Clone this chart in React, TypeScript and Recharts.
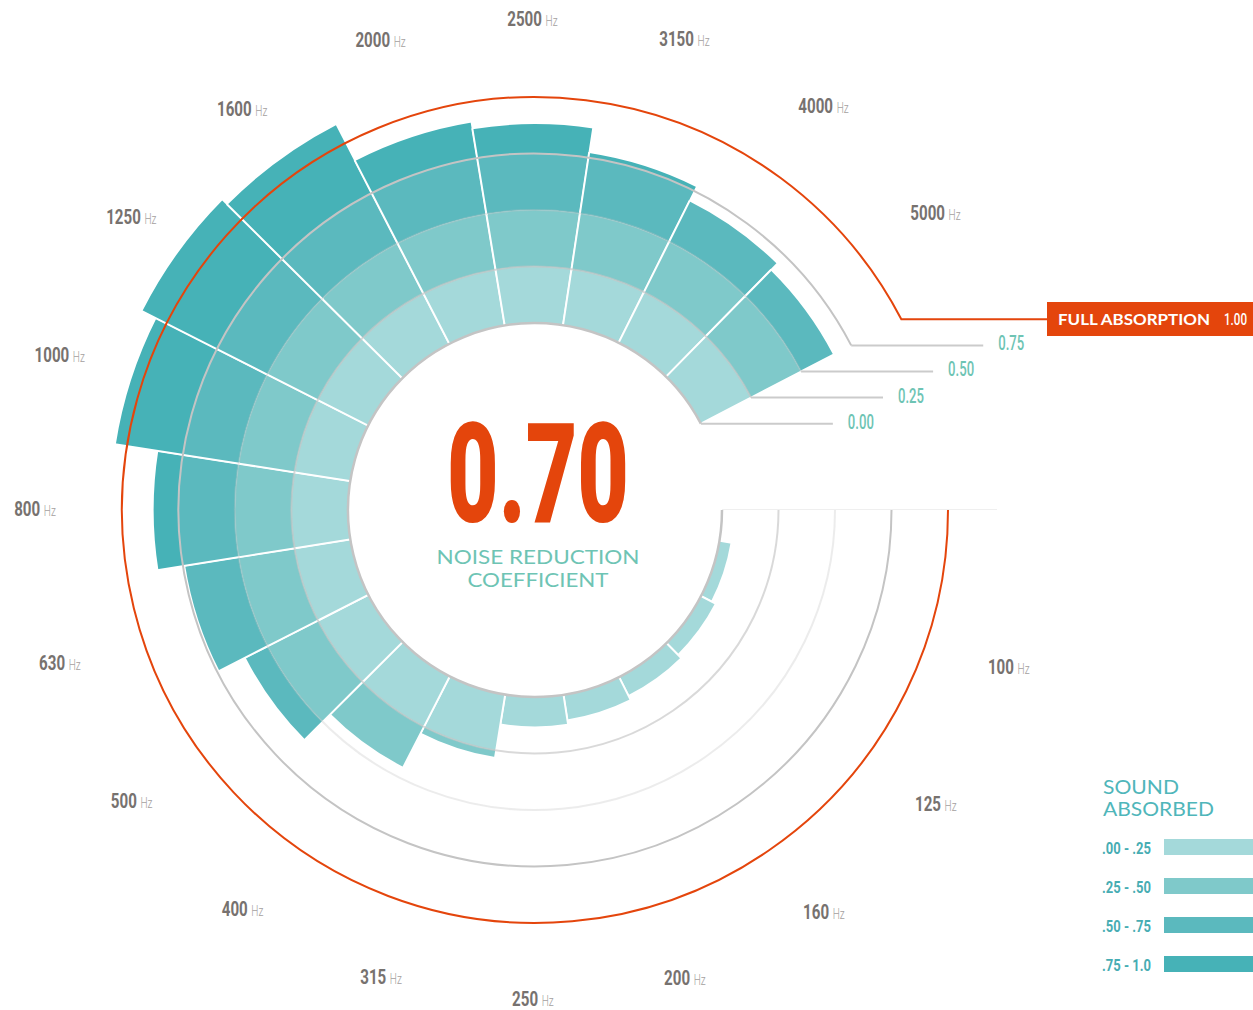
import React from "react";
import { RadialBarChart, RadialBar, PolarAngleAxis, PolarRadiusAxis, Sector } from "recharts";

// one-third octave band centres (Hz) and the share of sound absorbed at each
const frequencies = ["100", "125", "160", "200", "250", "315", "400", "500", "630", "800", "1000", "1250", "1600", "2000", "2500", "3150", "4000", "5000"];
const absorbed = [0.05, 0.07, 0.09, 0.11, 0.13, 0.28, 0.45, 0.61, 0.74, 0.86, 1.05, 1.12, 1.09, 0.91, 0.88, 0.77, 0.7, 0.66];

// colour bands that each bar is cut into
const bandKeys = ["b1", "b2", "b3", "b4"];
const bandLabels = [".00 - .25", ".25 - .50", ".50 - .75", ".75 - 1.0"];
const bandColors = ["#a4d9da", "#7fc9ca", "#5bb9be", "#46b2b7"];

// reference rings
const ringValues = [0, 0.25, 0.5, 0.75];
const ringLabels = ["0.00", "0.25", "0.50", "0.75"];
const fullValue = 1;
const fullLabel = "1.00";
const nrcValue = "0.70";

const ringOpacity = [1, 0.65, 0.32, 1];
const ringWidth = [2.5, 2, 2, 2];

const W = 1253;
const H = 1010;
const CX = 535;
const CY = 510;
const R0 = 187; // radius of 0.00
const R1 = 413; // radius of 1.00
const MAX_V = 1.2;
const R_OUT = R0 + (R1 - R0) * MAX_V;
const START = -9.5;
const END = -332.5;
const STEP = (END - START) / frequencies.length;
const RAD = Math.PI / 180;

const ORANGE = "#e4450c";
const TEAL = "#6ec4b4";

const rOf = (v: number) => R0 + (R1 - R0) * v;
const polar = (cx: number, cy: number, r: number, deg: number) => ({
  x: cx + r * Math.cos(-deg * RAD),
  y: cy + r * Math.sin(-deg * RAD),
});

const data = frequencies.map((freq, i) => {
  const row: Record<string, string | number> = { freq };
  bandKeys.forEach((k, j) => {
    const lo = j * 0.25;
    const hi = j === bandKeys.length - 1 ? Infinity : lo + 0.25;
    row[k] = Math.max(0, Math.min(absorbed[i], hi) - lo);
  });
  return row;
});

// sector without outline, plus white radial separators on its two sides
function Segment(props: any) {
  const { cx, cy, innerRadius, outerRadius, startAngle, endAngle, fill } = props;
  if (!(outerRadius - innerRadius > 0.01)) return <g />;
  const d = [startAngle, endAngle]
    .map((a: number) => {
      const p1 = polar(cx, cy, innerRadius - 1, a);
      const p2 = polar(cx, cy, outerRadius + 1, a);
      return `M${p1.x},${p1.y}L${p2.x},${p2.y}`;
    })
    .join("");
  return (
    <g>
      <Sector cx={cx} cy={cy} innerRadius={innerRadius} outerRadius={outerRadius} startAngle={startAngle} endAngle={endAngle} fill={fill} stroke="none" />
      <path d={d} stroke="#fff" strokeWidth={2} />
    </g>
  );
}

function FreqTick(props: any) {
  const { payload } = props;
  const index = frequencies.indexOf(String(payload.value));
  const deg = START + STEP * (index + 0.5);
  const r = 490 + 10 * Math.abs(Math.cos(deg * RAD));
  const p = polar(CX, CY, r, deg);
  return (
    <g transform={`translate(${p.x},${p.y}) scale(0.72,1)`}>
      <text textAnchor="middle" dy="0.36em" fontFamily="Roboto">
        <tspan fontWeight={700} fontSize={21} fill="#77726f">
          {payload.value}
        </tspan>
        <tspan dx={5} fontWeight={300} fontSize={14} fill="#a4a09e">
          Hz
        </tspan>
      </text>
    </g>
  );
}

function ringPath(r: number) {
  const e = polar(CX, CY, r, END);
  return `M${CX + r},${CY} A${r},${r} 0 1 1 ${e.x},${e.y}`;
}

export default function App() {
  const fullEnd = polar(CX, CY, rOf(fullValue), END);
  return (
    <div style={{ position: "absolute", left: 0, top: 0, width: W, height: H, background: "#fff" }}>
      {/* recharts lays the first band one step back from startAngle, so the range is shifted by a step */}
      <RadialBarChart
        width={W}
        height={H}
        cx={CX}
        cy={CY}
        innerRadius={R0}
        outerRadius={R_OUT}
        startAngle={START + STEP}
        endAngle={END + STEP}
        layout="centric"
        data={data}
        barCategoryGap={0}
        margin={{ top: 0, right: 0, bottom: 0, left: 0 }}
      >
        <PolarAngleAxis type="category" dataKey="freq" axisLine={false} tickLine={false} tick={(p: any) => <FreqTick {...p} />} />
        <PolarRadiusAxis type="number" domain={[0, MAX_V]} allowDataOverflow tick={false} axisLine={false} />
        {bandKeys.map((k, i) => (
          <RadialBar key={k} dataKey={k} stackId="a" fill={bandColors[i]} shape={(p: any) => <Segment {...p} />} isAnimationActive={false} />
        ))}
      </RadialBarChart>

      <svg width={W} height={H} style={{ position: "absolute", left: 0, top: 0, pointerEvents: "none" }}>
        <line x1={CX + R0} y1={CY - 0.5} x2={997} y2={CY - 0.5} stroke="#efefef" strokeWidth={1} />
        {ringValues.map((v, i) => {
          const r = rOf(v);
          const e = polar(CX, CY, r, END);
          return (
            <g key={v}>
              <path d={ringPath(r)} fill="none" stroke="#c4c4c4" strokeOpacity={ringOpacity[i]} strokeWidth={ringWidth[i]} />
              <line x1={e.x} y1={e.y} x2={e.x + 132} y2={e.y} stroke="#cbcbcb" strokeWidth={2} />
              <text x={e.x + 147} y={e.y + 5} fontFamily="Roboto" fontWeight={500} fontSize={20} fill={TEAL} textLength={26} lengthAdjust="spacingAndGlyphs">
                {ringLabels[i]}
              </text>
            </g>
          );
        })}
        <path d={`${ringPath(rOf(fullValue))} L1047,${fullEnd.y}`} fill="none" stroke={ORANGE} strokeWidth={2} />
        <rect x={1047} y={302} width={206} height={34} fill={ORANGE} />
        <text x={1058} y={325} fontFamily="Lato" fontWeight={700} fontSize={16} fill="#fff" textLength={152} lengthAdjust="spacingAndGlyphs">
          FULL ABSORPTION
        </text>
        <text x={1224} y={325} fontFamily="Roboto" fontWeight={500} fontSize={17} fill="#fff" textLength={23} lengthAdjust="spacingAndGlyphs">
          {fullLabel}
        </text>

        <text x={538} y={522} textAnchor="middle" fontFamily="Roboto" fontWeight={900} fontSize={140} fill={ORANGE} textLength={182} lengthAdjust="spacingAndGlyphs">
          {nrcValue}
        </text>
        <text x={538} y={564} textAnchor="middle" fontFamily="Lato" fontWeight={400} fontSize={19} fill={TEAL} textLength={203} lengthAdjust="spacingAndGlyphs">
          NOISE REDUCTION
        </text>
        <text x={538} y={587} textAnchor="middle" fontFamily="Lato" fontWeight={400} fontSize={19} fill={TEAL} textLength={141} lengthAdjust="spacingAndGlyphs">
          COEFFICIENT
        </text>

        <text x={1103} y={794} fontFamily="Lato" fontWeight={400} fontSize={20} fill="#4fb6ba" textLength={76} lengthAdjust="spacingAndGlyphs">
          SOUND
        </text>
        <text x={1103} y={816} fontFamily="Lato" fontWeight={400} fontSize={20} fill="#4fb6ba" textLength={111} lengthAdjust="spacingAndGlyphs">
          ABSORBED
        </text>
        {bandLabels.map((lab, i) => (
          <g key={lab}>
            <rect x={1164} y={839 + i * 39} width={W - 1164} height={16} fill={bandColors[i]} />
            <text x={1102} y={854 + i * 39} fontFamily="Roboto" fontWeight={700} fontSize={17} fill="#47adb3" textLength={49} lengthAdjust="spacingAndGlyphs">
              {lab}
            </text>
          </g>
        ))}
      </svg>
    </div>
  );
}
